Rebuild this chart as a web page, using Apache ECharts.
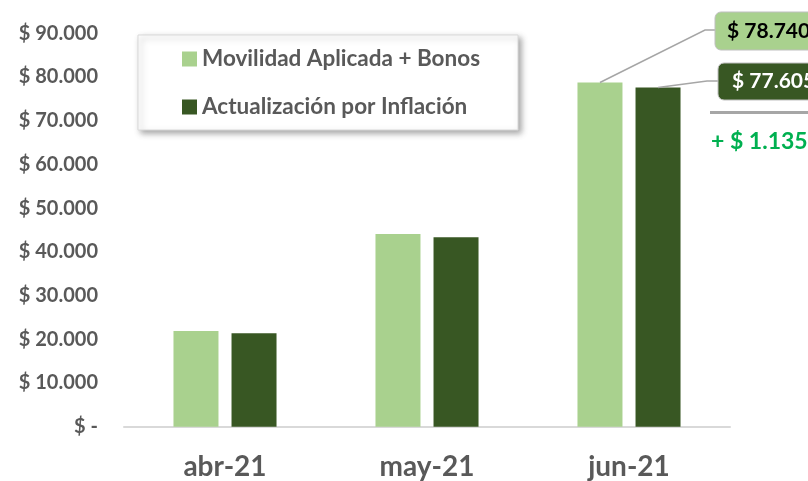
<!DOCTYPE html>
<html><head><meta charset="utf-8">
<script src="https://cdn.jsdelivr.net/npm/echarts@6/dist/echarts.min.js"></script>
<style>html,body{margin:0;padding:0;background:#fff}#c{width:808px;height:481px}</style>
</head><body><div id="c"></div>
<script>
const categories = ['abr-21', 'may-21', 'jun-21'];
const movilidad = [21900, 44100, 78740];
const inflacion = [21380, 43350, 77605];
const seriesNames = ['Movilidad Aplicada + Bonos', 'Actualización por Inflación'];
const yMax = 90000;
const yStep = 10000;

const FONT = 'Lato';
const GRAY = '#595959';
const LIGHT = '#A9D18E';
const DARK = '#385723';

function fmt(n) {
  if (n === 0) return '$ -';
  return '$ ' + String(n).replace(/\B(?=(\d{3})+(?!\d))/g, '.');
}

const chart = echarts.init(document.getElementById('c'), null, {renderer: 'canvas'});
const option = {
  animation: false,
  backgroundColor: '#fff',
  grid: {left: 124, right: 78, top: 33.3, bottom: 54.3},
  xAxis: {
    type: 'category', data: categories,
    axisLine: {lineStyle: {color: '#D9D9D9', width: 2}},
    axisTick: {show: false},
    axisLabel: {fontFamily: FONT, fontWeight: 'bold', fontSize: 28, color: GRAY, margin: 26}
  },
  yAxis: {
    type: 'value', min: 0, max: yMax, interval: yStep,
    axisLine: {show: false}, axisTick: {show: false}, splitLine: {show: false},
    axisLabel: {formatter: fmt, fontFamily: FONT, fontWeight: 'bold', fontSize: 20, color: GRAY, margin: 26}
  },
  legend: {
    orient: 'vertical', left: 182, top: 47, z: 10,
    itemWidth: 15, itemHeight: 15, itemGap: 24, padding: 0,
    icon: 'rect',
    textStyle: {fontFamily: FONT, fontWeight: 'bold', fontSize: 22.5, color: GRAY, lineHeight: 24},
    data: seriesNames
  },
  series: [
    {name: seriesNames[0], type: 'bar', data: movilidad, barWidth: 45, barGap: '29%', itemStyle: {color: LIGHT}},
    {name: seriesNames[1], type: 'bar', data: inflacion, barWidth: 45, barGap: '29%', itemStyle: {color: DARK}}
  ]
};
chart.setOption(option);

function barTop(si, idx) {
  const l = chart.getModel().getSeriesByIndex(si).getData().getItemLayout(idx);
  return [l.x + l.width / 2, Math.min(l.y, l.y + l.height)];
}
const last = categories.length - 1;
const p1 = barTop(0, last);
const p2 = barTop(1, last);
const diff = movilidad[last] - inflacion[last];

chart.setOption({
  graphic: [
    {type: 'rect', z: 1, shape: {x: 138, y: 35, width: 380, height: 95},
      style: {fill: '#fff', stroke: '#D9D9D9', lineWidth: 1, shadowBlur: 6, shadowOffsetX: 3, shadowOffsetY: 3, shadowColor: 'rgba(0,0,0,0.35)'}},
    {type: 'polyline', z: 5, shape: {points: [p1, [705, 30], [715, 30]]}, style: {stroke: '#A6A6A6', lineWidth: 1.5, fill: null}},
    {type: 'polyline', z: 5, shape: {points: [p2, [707, 81], [718, 81]]}, style: {stroke: '#A6A6A6', lineWidth: 1.5, fill: null}},
    {type: 'rect', z: 6, shape: {x: 715, y: 12, width: 110, height: 38, r: 6}, style: {fill: LIGHT, stroke: '#BFBFBF', lineWidth: 1}},
    {type: 'text', z: 7, x: 727, y: 31, style: {text: fmt(movilidad[last]), fill: '#000', font: 'bold 21px ' + FONT, verticalAlign: 'middle'}},
    {type: 'rect', z: 6, shape: {x: 718, y: 63, width: 110, height: 37, r: 6}, style: {fill: DARK, stroke: '#BFBFBF', lineWidth: 1}},
    {type: 'text', z: 7, x: 732, y: 81.5, style: {text: fmt(inflacion[last]), fill: '#fff', font: 'bold 21px ' + FONT, verticalAlign: 'middle'}},
    {type: 'rect', z: 5, shape: {x: 710, y: 111, width: 100, height: 3}, style: {fill: '#A6A6A6'}},
    {type: 'text', z: 7, x: 711, y: 142, style: {text: '+ ' + fmt(diff), fill: '#00B050', font: 'bold 23px ' + FONT, verticalAlign: 'middle'}}
  ]
});
</script>
</body></html>
